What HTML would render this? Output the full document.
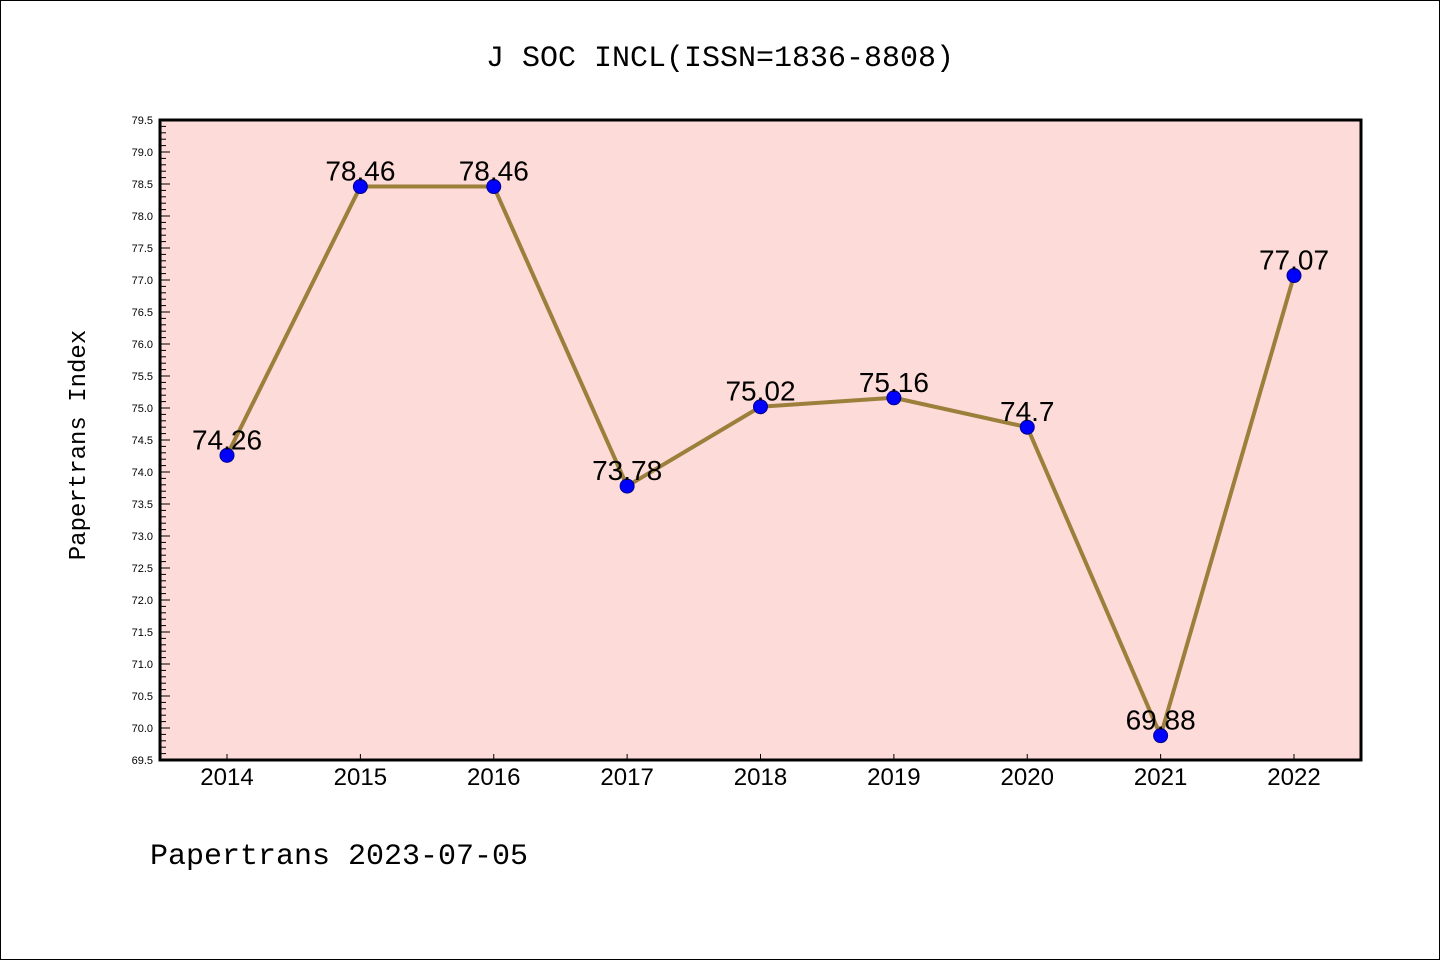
<!DOCTYPE html>
<html><head><meta charset="utf-8"><style>
body{margin:0;background:#fff;}
svg{display:block;font-family:"Liberation Sans","WenQuanYi Zen Hei",sans-serif;}
</style></head><body>
<svg id="chart" width="1440" height="960" viewBox="0 0 1440 960">
<rect x="0.5" y="0.5" width="1439" height="959" fill="#fff" stroke="#000"/>
<text x="720" y="66" text-anchor="middle" font-size="30" font-family="'WenQuanYi Zen Hei','Liberation Mono',monospace">J SOC INCL(ISSN=1836-8808)</text>
<rect x="160" y="120" width="1201" height="640" fill="#fddbd8"/>
<g id="yaxis"></g>
<g id="xaxis"></g>
<g id="series"></g>
<rect x="160" y="120" width="1201" height="640" fill="none" stroke="#000" stroke-width="3"/>
<text x="85" y="445" text-anchor="middle" font-size="24" transform="rotate(-90 85 445)" font-family="'WenQuanYi Zen Hei','Liberation Mono',monospace">Papertrans Index</text>
<text x="150" y="864" font-size="30" font-family="'WenQuanYi Zen Hei','Liberation Mono',monospace">Papertrans 2023-07-05</text>
</svg>
<script>
const years = ["2014","2015","2016","2017","2018","2019","2020","2021","2022"];
const values = [74.26,78.46,78.46,73.78,75.02,75.16,74.7,69.88,77.07];
const labels = ["74.26","78.46","78.46","73.78","75.02","75.16","74.7","69.88","77.07"];
const yMin = 69.5, yMax = 79.5;
const NS="http://www.w3.org/2000/svg";
const L=160,R=1361,T=120,B=760;
const x0=227, x1=1294;
function xs(i){return x0+(x1-x0)*i/(years.length-1);}
function ys(v){return B-(v-yMin)/(yMax-yMin)*(B-T);}
function mk(tag,attrs,parent){const e=document.createElementNS(NS,tag);for(const k in attrs)e.setAttribute(k,attrs[k]);parent.appendChild(e);return e;}
const ya=document.getElementById('yaxis');
for(let k=0;k<=100;k++){
  const v=yMin+k*0.1, y=ys(v), major=(k%5===0);
  const t=mk('line',{x1:L,x2:L+(major?10:6),y1:y,y2:y,stroke:'#000','stroke-width':1},ya);
  
  
  if(major){
    const tx=mk('text',{x:L-7,y:y+4,'text-anchor':'end','font-size':11},ya);
    
    
    tx.textContent=v.toFixed(1);
  }
}
const xa=document.getElementById('xaxis');
years.forEach((yr,i)=>{
  const x=xs(i);
  const t=mk('line',{x1:x,x2:x,y1:B,y2:B-6,stroke:'#000','stroke-width':1},xa);
  
  
  const tx=mk('text',{x:x,y:785,'text-anchor':'middle','font-size':24},xa);
  
  
  tx.textContent=yr;
});
const s=document.getElementById('series');
const pl=mk('polyline',{points:values.map((v,i)=>xs(i)+','+ys(v)).join(' '),fill:'none',stroke:'#9b7f3b','stroke-width':4,'stroke-linejoin':'round'},s);


values.forEach((v,i)=>{
  const c=mk('circle',{cx:xs(i),cy:ys(v),r:7,fill:'#0000ff',stroke:'#00008b','stroke-width':1},s);
  
  
  const tx=mk('text',{x:xs(i),y:ys(v)-6,'text-anchor':'middle','font-size':28},s);
  
  
  tx.textContent=labels[i];
});
</script>
</body></html>
